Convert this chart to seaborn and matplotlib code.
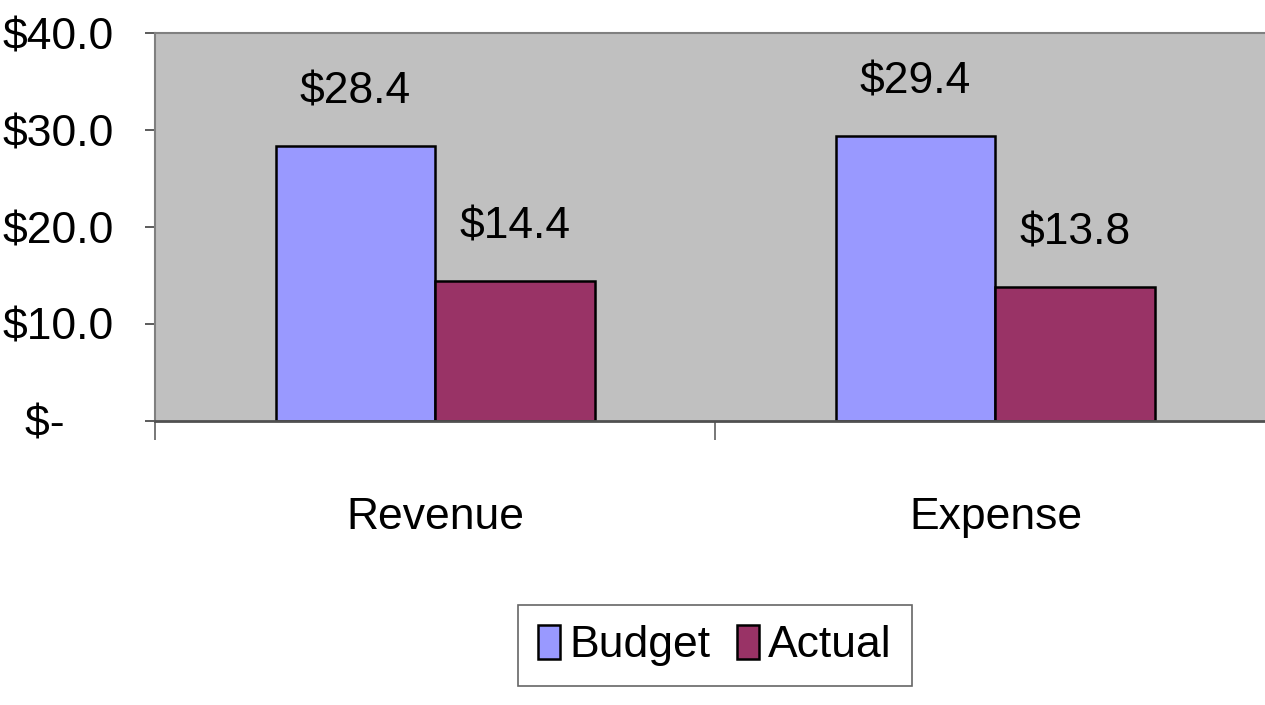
import numpy as np
import pandas as pd
import matplotlib
matplotlib.use("Agg")
import matplotlib.pyplot as plt
import seaborn as sns


# -------------------------------
# Data
# -------------------------------
categories = ["Revenue", "Expense"]
series = ["Budget", "Actual"]
budget = [28.4, 29.4]
actual = [14.4, 13.8]
y_ticks = [0, 10, 20, 30, 40]
y_tick_labels = ["$-    ", "$10.0", "$20.0", "$30.0", "$40.0"]

df = pd.DataFrame({
    "Category": categories * 2,
    "Series": ["Budget"] * len(categories) + ["Actual"] * len(categories),
    "Value": budget + actual,
})

colors = {"Budget": "#9999FF", "Actual": "#993366"}


# -------------------------------
# Style
# -------------------------------
sns.set_style("white")
plt.rcParams["font.family"] = ["Liberation Sans Narrow", "Liberation Sans", "DejaVu Sans"]
plt.rcParams["text.color"] = "black"
fs = 32

fig = plt.figure(figsize=(12.65, 7.05), dpi=100)
ax = fig.add_axes([0.1229, 0.4033, 0.8854, 0.5492])
ax.set_facecolor("#C0C0C0")

sns.barplot(
    data=df, x="Category", y="Value", hue="Series",
    hue_order=series, order=categories, palette=colors,
    width=0.571, gap=0, edgecolor="black", linewidth=1.8,
    saturation=1, ax=ax, legend=True,
)

# value labels
for cont in ax.containers:
    ax.bar_label(cont, labels=[f"${v:.1f}" for v in cont.datavalues],
                 padding=24, fontsize=fs, color="black")

# -------------------------------
# Axes
# -------------------------------
ax.set_xlim(-0.5, 1.5)
ax.set_ylim(0, 40)
ax.set_yticks(y_ticks)
ax.set_yticklabels(y_tick_labels, fontsize=fs)
ax.set_xlabel("")
ax.set_ylabel("")

ax.set_xticks([0, 1])
ax.set_xticklabels(categories, fontsize=fs)
ax.set_xticks([-0.5, 0.5, 1.5], minor=True)
ax.tick_params(axis="x", which="major", length=0, pad=55, labelcolor="black")
ax.tick_params(axis="x", which="minor", length=14, width=1.2,
               color="#606060", direction="out", bottom=True)
ax.tick_params(axis="y", length=7, width=1.2, color="#404040",
               direction="out", left=True, pad=23, labelcolor="black")

for side, sp in ax.spines.items():
    sp.set_color("#808080")
    sp.set_linewidth(1.5)
ax.spines["bottom"].set_color("#505050")
ax.spines["bottom"].set_linewidth(2)

# -------------------------------
# Legend
# -------------------------------
ax.legend_.remove()
handles, labels = ax.get_legend_handles_labels()
leg = fig.legend(
    handles, labels, loc="upper center",
    bbox_to_anchor=(715 / 1265, 1 - 605 / 705),
    ncol=2, fontsize=fs, frameon=True, fancybox=False,
    handlelength=0.5, handleheight=0.8, handletextpad=0.2,
    columnspacing=0.6, borderpad=0.45, borderaxespad=0,
)
leg.get_frame().set_edgecolor("#404040")
leg.get_frame().set_linewidth(1.2)
for t in leg.get_texts():
    t.set_color("black")

fig.savefig("out.png", dpi=100)
